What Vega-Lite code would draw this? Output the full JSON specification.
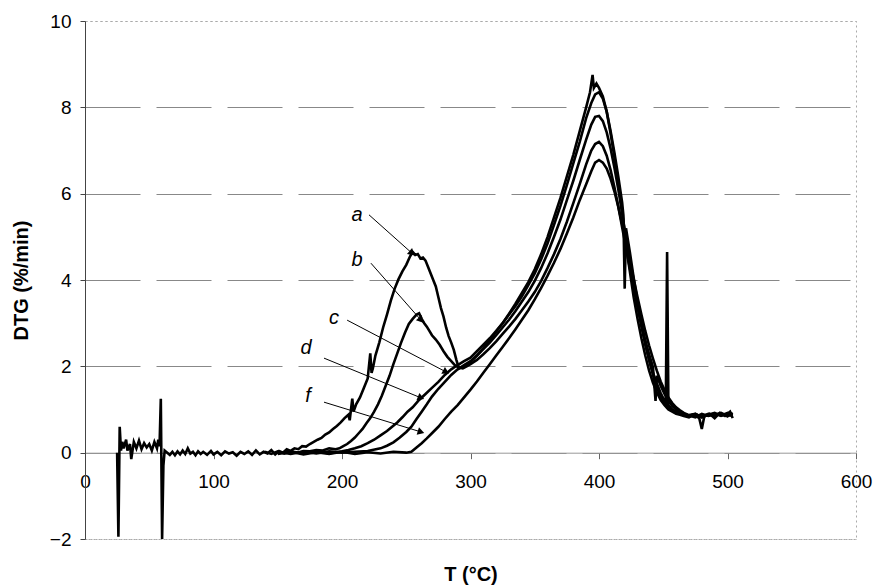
{
  "$schema": "https://vega.github.io/schema/vega-lite/v6.json",
  "width": 771,
  "height": 518,
  "autosize": {"type": "none"},
  "padding": {"left": 85, "top": 21, "right": 21, "bottom": 48},
  "background": "white",
  "config": {
    "view": {"stroke": "#aaa", "strokeDash": [2, 3]},
    "font": "Liberation Sans"
  },
  "datasets": {
    "dtg": [
      {"s":"a","t":25,"v":0},{"s":"a","t":26,"v":-1.95},{"s":"a","t":27,"v":0.6},{"s":"a","t":28,"v":0.05},{"s":"a","t":29,"v":0.25},{"s":"a","t":30,"v":0.1},{"s":"a","t":32,"v":0.3},{"s":"a","t":33,"v":0.05},{"s":"a","t":35,"v":0.2},{"s":"a","t":36,"v":-0.15},{"s":"a","t":38,"v":0.25},{"s":"a","t":40,"v":0.1},{"s":"a","t":42,"v":0.28},{"s":"a","t":44,"v":0.08},{"s":"a","t":46,"v":0.22},{"s":"a","t":48,"v":0.12},{"s":"a","t":50,"v":0.2},{"s":"a","t":52,"v":0.05},{"s":"a","t":54,"v":0.25},{"s":"a","t":56,"v":0.1},{"s":"a","t":57,"v":0.3},{"s":"a","t":58,"v":0.15},{"s":"a","t":59,"v":1.25},{"s":"a","t":60,"v":-2.0},{"s":"a","t":61,"v":-0.3},{"s":"a","t":62,"v":0.05},{"s":"a","t":64,"v":0},{"s":"a","t":66,"v":-0.05},{"s":"a","t":68,"v":0.02},{"s":"a","t":70,"v":-0.06},{"s":"a","t":72,"v":0.03},{"s":"a","t":74,"v":-0.04},{"s":"a","t":76,"v":0.05},{"s":"a","t":78,"v":-0.03},{"s":"a","t":80,"v":0.1},{"s":"a","t":82,"v":-0.02},{"s":"a","t":84,"v":0.02},{"s":"a","t":86,"v":-0.06},{"s":"a","t":88,"v":0.03},{"s":"a","t":90,"v":-0.03},{"s":"a","t":92,"v":0.02},{"s":"a","t":95,"v":-0.05},{"s":"a","t":98,"v":0.04},{"s":"a","t":100,"v":-0.04},{"s":"a","t":103,"v":0.02},{"s":"a","t":106,"v":-0.06},{"s":"a","t":109,"v":0.03},{"s":"a","t":112,"v":-0.02},{"s":"a","t":115,"v":0.01},{"s":"a","t":118,"v":-0.07},{"s":"a","t":121,"v":0.02},{"s":"a","t":124,"v":-0.03},{"s":"a","t":127,"v":0.03},{"s":"a","t":130,"v":-0.05},{"s":"a","t":133,"v":0.05},{"s":"a","t":136,"v":-0.04},{"s":"a","t":139,"v":0.02},{"s":"a","t":142,"v":-0.02},{"s":"a","t":145,"v":0.06},{"s":"a","t":148,"v":-0.04},{"s":"a","t":151,"v":0.04},{"s":"a","t":154,"v":0},{"s":"a","t":157,"v":0.08},{"s":"a","t":160,"v":0.04},{"s":"a","t":163,"v":0.1},{"s":"a","t":166,"v":0.08},{"s":"a","t":169,"v":0.15},{"s":"a","t":172,"v":0.14},{"s":"a","t":175,"v":0.2},{"s":"a","t":178,"v":0.25},{"s":"a","t":181,"v":0.3},{"s":"a","t":184,"v":0.34},{"s":"a","t":187,"v":0.42},{"s":"a","t":190,"v":0.47},{"s":"a","t":193,"v":0.55},{"s":"a","t":196,"v":0.62},{"s":"a","t":199,"v":0.7},{"s":"a","t":202,"v":0.8},{"s":"a","t":205,"v":0.88},{"s":"a","t":206,"v":0.75},{"s":"a","t":208,"v":1.25},{"s":"a","t":209,"v":0.95},{"s":"a","t":211,"v":1.12},{"s":"a","t":214,"v":1.28},{"s":"a","t":217,"v":1.5},{"s":"a","t":220,"v":1.72},{"s":"a","t":222,"v":2.3},{"s":"a","t":223,"v":1.85},{"s":"a","t":224,"v":1.95},{"s":"a","t":226,"v":2.25},{"s":"a","t":229,"v":2.55},{"s":"a","t":232,"v":2.9},{"s":"a","t":235,"v":3.2},{"s":"a","t":238,"v":3.52},{"s":"a","t":241,"v":3.8},{"s":"a","t":244,"v":4.02},{"s":"a","t":247,"v":4.2},{"s":"a","t":250,"v":4.35},{"s":"a","t":253,"v":4.55},{"s":"a","t":255,"v":4.65},{"s":"a","t":257,"v":4.58},{"s":"a","t":259,"v":4.6},{"s":"a","t":261,"v":4.5},{"s":"a","t":263,"v":4.52},{"s":"a","t":265,"v":4.45},{"s":"a","t":267,"v":4.3},{"s":"a","t":269,"v":4.15},{"s":"a","t":271,"v":4.0},{"s":"a","t":273,"v":3.85},{"s":"a","t":275,"v":3.6},{"s":"a","t":277,"v":3.35},{"s":"a","t":279,"v":3.15},{"s":"a","t":281,"v":2.9},{"s":"a","t":283,"v":2.7},{"s":"a","t":285,"v":2.55},{"s":"a","t":287,"v":2.38},{"s":"a","t":289,"v":2.15},{"s":"a","t":291,"v":1.95},{"s":"a","t":295,"v":2.0},{"s":"a","t":300,"v":2.1},{"s":"a","t":305,"v":2.25},{"s":"a","t":310,"v":2.42},{"s":"a","t":315,"v":2.6},{"s":"a","t":320,"v":2.8},{"s":"a","t":325,"v":3.0},{"s":"a","t":330,"v":3.22},{"s":"a","t":335,"v":3.45},{"s":"a","t":340,"v":3.7},{"s":"a","t":345,"v":3.95},{"s":"a","t":350,"v":4.25},{"s":"a","t":355,"v":4.6},{"s":"a","t":360,"v":5.0},{"s":"a","t":365,"v":5.45},{"s":"a","t":370,"v":5.9},{"s":"a","t":375,"v":6.4},{"s":"a","t":380,"v":6.9},{"s":"a","t":385,"v":7.45},{"s":"a","t":390,"v":8.0},{"s":"a","t":393,"v":8.35},{"s":"a","t":395,"v":8.75},{"s":"a","t":396,"v":8.45},{"s":"a","t":398,"v":8.55},{"s":"a","t":400,"v":8.45},{"s":"a","t":403,"v":8.25},{"s":"a","t":406,"v":7.9},{"s":"a","t":409,"v":7.4},{"s":"a","t":412,"v":6.85},{"s":"a","t":415,"v":6.25},{"s":"a","t":418,"v":5.6},{"s":"a","t":420,"v":5.1},{"s":"a","t":422,"v":4.6},{"s":"a","t":424,"v":4.2},{"s":"a","t":427,"v":3.6},{"s":"a","t":430,"v":3.1},{"s":"a","t":433,"v":2.65},{"s":"a","t":436,"v":2.25},{"s":"a","t":439,"v":1.9},{"s":"a","t":442,"v":1.62},{"s":"a","t":445,"v":1.4},{"s":"a","t":448,"v":1.22},{"s":"a","t":451,"v":1.1},{"s":"a","t":454,"v":1.0},{"s":"a","t":457,"v":0.95},{"s":"a","t":460,"v":0.9},{"s":"a","t":463,"v":0.88},{"s":"a","t":466,"v":0.85},{"s":"a","t":470,"v":0.82},{"s":"a","t":474,"v":0.88},{"s":"a","t":478,"v":0.8},{"s":"a","t":480,"v":0.55},{"s":"a","t":482,"v":0.85},{"s":"a","t":486,"v":0.9},{"s":"a","t":490,"v":0.8},{"s":"a","t":494,"v":0.92},{"s":"a","t":498,"v":0.85},{"s":"a","t":502,"v":0.95},{"s":"a","t":504,"v":0.8},

      {"s":"b","t":140,"v":0.02},{"s":"b","t":145,"v":-0.03},{"s":"b","t":150,"v":0.03},{"s":"b","t":155,"v":-0.02},{"s":"b","t":160,"v":0.02},{"s":"b","t":165,"v":0},{"s":"b","t":170,"v":0.04},{"s":"b","t":175,"v":0.03},{"s":"b","t":180,"v":0.06},{"s":"b","t":185,"v":0.05},{"s":"b","t":190,"v":0.1},{"s":"b","t":195,"v":0.08},{"s":"b","t":198,"v":0.1},{"s":"b","t":201,"v":0.15},{"s":"b","t":204,"v":0.2},{"s":"b","t":207,"v":0.27},{"s":"b","t":210,"v":0.35},{"s":"b","t":213,"v":0.45},{"s":"b","t":216,"v":0.55},{"s":"b","t":219,"v":0.68},{"s":"b","t":222,"v":0.8},{"s":"b","t":225,"v":0.95},{"s":"b","t":228,"v":1.12},{"s":"b","t":231,"v":1.32},{"s":"b","t":234,"v":1.55},{"s":"b","t":237,"v":1.78},{"s":"b","t":240,"v":2.05},{"s":"b","t":243,"v":2.3},{"s":"b","t":246,"v":2.55},{"s":"b","t":249,"v":2.78},{"s":"b","t":252,"v":2.98},{"s":"b","t":255,"v":3.1},{"s":"b","t":258,"v":3.2},{"s":"b","t":260,"v":3.23},{"s":"b","t":262,"v":3.1},{"s":"b","t":264,"v":3.0},{"s":"b","t":266,"v":2.92},{"s":"b","t":268,"v":2.82},{"s":"b","t":270,"v":2.72},{"s":"b","t":273,"v":2.62},{"s":"b","t":276,"v":2.5},{"s":"b","t":279,"v":2.35},{"s":"b","t":282,"v":2.22},{"s":"b","t":285,"v":2.12},{"s":"b","t":288,"v":2.02},{"s":"b","t":291,"v":1.97},{"s":"b","t":294,"v":1.95},{"s":"b","t":297,"v":2.0},{"s":"b","t":300,"v":2.05},{"s":"b","t":305,"v":2.15},{"s":"b","t":310,"v":2.28},{"s":"b","t":315,"v":2.42},{"s":"b","t":320,"v":2.58},{"s":"b","t":325,"v":2.75},{"s":"b","t":330,"v":2.92},{"s":"b","t":335,"v":3.1},{"s":"b","t":340,"v":3.3},{"s":"b","t":345,"v":3.5},{"s":"b","t":350,"v":3.72},{"s":"b","t":355,"v":3.98},{"s":"b","t":360,"v":4.28},{"s":"b","t":365,"v":4.6},{"s":"b","t":370,"v":4.95},{"s":"b","t":375,"v":5.35},{"s":"b","t":380,"v":5.78},{"s":"b","t":385,"v":6.22},{"s":"b","t":390,"v":6.68},{"s":"b","t":394,"v":7.0},{"s":"b","t":397,"v":7.15},{"s":"b","t":400,"v":7.2},{"s":"b","t":403,"v":7.1},{"s":"b","t":406,"v":6.88},{"s":"b","t":409,"v":6.55},{"s":"b","t":412,"v":6.15},{"s":"b","t":415,"v":5.7},{"s":"b","t":418,"v":5.22},{"s":"b","t":421,"v":4.75},{"s":"b","t":424,"v":4.28},{"s":"b","t":427,"v":3.82},{"s":"b","t":430,"v":3.38},{"s":"b","t":433,"v":2.98},{"s":"b","t":436,"v":2.6},{"s":"b","t":439,"v":2.28},{"s":"b","t":442,"v":1.98},{"s":"b","t":444,"v":1.2},{"s":"b","t":445,"v":1.78},{"s":"b","t":448,"v":1.55},{"s":"b","t":451,"v":1.36},{"s":"b","t":454,"v":1.2},{"s":"b","t":457,"v":1.08},{"s":"b","t":460,"v":1.0},{"s":"b","t":465,"v":0.9},{"s":"b","t":470,"v":0.86},{"s":"b","t":475,"v":0.88},{"s":"b","t":480,"v":0.84},{"s":"b","t":485,"v":0.9},{"s":"b","t":490,"v":0.86},{"s":"b","t":495,"v":0.9},{"s":"b","t":500,"v":0.84},{"s":"b","t":504,"v":0.92},

      {"s":"c","t":150,"v":-0.03},{"s":"c","t":160,"v":0.03},{"s":"c","t":170,"v":-0.02},{"s":"c","t":180,"v":0.02},{"s":"c","t":190,"v":-0.01},{"s":"c","t":200,"v":0.03},{"s":"c","t":205,"v":0.06},{"s":"c","t":210,"v":0.1},{"s":"c","t":215,"v":0.15},{"s":"c","t":220,"v":0.22},{"s":"c","t":225,"v":0.3},{"s":"c","t":230,"v":0.4},{"s":"c","t":235,"v":0.5},{"s":"c","t":239,"v":0.6},{"s":"c","t":243,"v":0.7},{"s":"c","t":247,"v":0.82},{"s":"c","t":251,"v":0.95},{"s":"c","t":255,"v":1.05},{"s":"c","t":260,"v":1.22},{"s":"c","t":265,"v":1.36},{"s":"c","t":270,"v":1.5},{"s":"c","t":275,"v":1.64},{"s":"c","t":280,"v":1.8},{"s":"c","t":285,"v":1.93},{"s":"c","t":290,"v":2.03},{"s":"c","t":295,"v":2.12},{"s":"c","t":300,"v":2.2},{"s":"c","t":305,"v":2.35},{"s":"c","t":310,"v":2.5},{"s":"c","t":315,"v":2.65},{"s":"c","t":320,"v":2.82},{"s":"c","t":325,"v":3.0},{"s":"c","t":330,"v":3.2},{"s":"c","t":335,"v":3.4},{"s":"c","t":340,"v":3.62},{"s":"c","t":345,"v":3.88},{"s":"c","t":350,"v":4.15},{"s":"c","t":355,"v":4.48},{"s":"c","t":360,"v":4.85},{"s":"c","t":365,"v":5.28},{"s":"c","t":370,"v":5.72},{"s":"c","t":375,"v":6.2},{"s":"c","t":380,"v":6.7},{"s":"c","t":385,"v":7.2},{"s":"c","t":390,"v":7.75},{"s":"c","t":394,"v":8.1},{"s":"c","t":397,"v":8.3},{"s":"c","t":400,"v":8.35},{"s":"c","t":403,"v":8.2},{"s":"c","t":406,"v":7.9},{"s":"c","t":409,"v":7.45},{"s":"c","t":412,"v":6.95},{"s":"c","t":415,"v":6.4},{"s":"c","t":418,"v":5.8},{"s":"c","t":419,"v":5.5},{"s":"c","t":420,"v":3.8},{"s":"c","t":421,"v":5.2},{"s":"c","t":424,"v":4.65},{"s":"c","t":427,"v":4.05},{"s":"c","t":430,"v":3.5},{"s":"c","t":433,"v":3.0},{"s":"c","t":436,"v":2.55},{"s":"c","t":439,"v":2.15},{"s":"c","t":442,"v":1.8},{"s":"c","t":445,"v":1.52},{"s":"c","t":448,"v":1.3},{"s":"c","t":451,"v":1.15},{"s":"c","t":454,"v":1.05},{"s":"c","t":457,"v":0.98},{"s":"c","t":460,"v":0.92},{"s":"c","t":465,"v":0.88},{"s":"c","t":470,"v":0.85},{"s":"c","t":475,"v":0.9},{"s":"c","t":480,"v":0.82},{"s":"c","t":485,"v":0.88},{"s":"c","t":490,"v":0.92},{"s":"c","t":495,"v":0.85},{"s":"c","t":500,"v":0.9},{"s":"c","t":504,"v":0.88},

      {"s":"d","t":150,"v":0.02},{"s":"d","t":160,"v":-0.03},{"s":"d","t":170,"v":0.02},{"s":"d","t":180,"v":-0.02},{"s":"d","t":190,"v":0.03},{"s":"d","t":200,"v":0},{"s":"d","t":210,"v":0.02},{"s":"d","t":220,"v":0.04},{"s":"d","t":230,"v":0.1},{"s":"d","t":235,"v":0.16},{"s":"d","t":240,"v":0.24},{"s":"d","t":245,"v":0.35},{"s":"d","t":250,"v":0.48},{"s":"d","t":254,"v":0.6},{"s":"d","t":258,"v":0.78},{"s":"d","t":262,"v":0.95},{"s":"d","t":266,"v":1.12},{"s":"d","t":270,"v":1.3},{"s":"d","t":275,"v":1.48},{"s":"d","t":280,"v":1.64},{"s":"d","t":285,"v":1.8},{"s":"d","t":290,"v":1.93},{"s":"d","t":295,"v":2.03},{"s":"d","t":300,"v":2.12},{"s":"d","t":305,"v":2.25},{"s":"d","t":310,"v":2.4},{"s":"d","t":315,"v":2.55},{"s":"d","t":320,"v":2.72},{"s":"d","t":325,"v":2.9},{"s":"d","t":330,"v":3.08},{"s":"d","t":335,"v":3.28},{"s":"d","t":340,"v":3.5},{"s":"d","t":345,"v":3.72},{"s":"d","t":350,"v":3.98},{"s":"d","t":355,"v":4.28},{"s":"d","t":360,"v":4.62},{"s":"d","t":365,"v":5.0},{"s":"d","t":370,"v":5.4},{"s":"d","t":375,"v":5.85},{"s":"d","t":380,"v":6.3},{"s":"d","t":385,"v":6.78},{"s":"d","t":390,"v":7.25},{"s":"d","t":394,"v":7.6},{"s":"d","t":397,"v":7.78},{"s":"d","t":400,"v":7.8},{"s":"d","t":403,"v":7.68},{"s":"d","t":406,"v":7.42},{"s":"d","t":409,"v":7.05},{"s":"d","t":412,"v":6.6},{"s":"d","t":415,"v":6.1},{"s":"d","t":418,"v":5.55},{"s":"d","t":421,"v":4.98},{"s":"d","t":424,"v":4.42},{"s":"d","t":427,"v":3.88},{"s":"d","t":430,"v":3.38},{"s":"d","t":433,"v":2.92},{"s":"d","t":436,"v":2.5},{"s":"d","t":439,"v":2.15},{"s":"d","t":442,"v":1.85},{"s":"d","t":445,"v":1.6},{"s":"d","t":448,"v":1.38},{"s":"d","t":451,"v":1.2},{"s":"d","t":452,"v":1.15},{"s":"d","t":453,"v":4.65},{"s":"d","t":454,"v":1.1},{"s":"d","t":457,"v":1.0},{"s":"d","t":460,"v":0.95},{"s":"d","t":465,"v":0.9},{"s":"d","t":470,"v":0.86},{"s":"d","t":475,"v":0.82},{"s":"d","t":480,"v":0.9},{"s":"d","t":485,"v":0.85},{"s":"d","t":490,"v":0.88},{"s":"d","t":495,"v":0.92},{"s":"d","t":500,"v":0.85},{"s":"d","t":504,"v":0.9},

      {"s":"f","t":150,"v":-0.02},{"s":"f","t":160,"v":0.02},{"s":"f","t":170,"v":-0.04},{"s":"f","t":180,"v":0.01},{"s":"f","t":190,"v":-0.03},{"s":"f","t":200,"v":0.02},{"s":"f","t":210,"v":-0.03},{"s":"f","t":220,"v":0.01},{"s":"f","t":230,"v":-0.02},{"s":"f","t":240,"v":0.02},{"s":"f","t":250,"v":0},{"s":"f","t":254,"v":0.02},{"s":"f","t":258,"v":0.12},{"s":"f","t":262,"v":0.22},{"s":"f","t":266,"v":0.33},{"s":"f","t":270,"v":0.45},{"s":"f","t":275,"v":0.6},{"s":"f","t":280,"v":0.78},{"s":"f","t":285,"v":0.95},{"s":"f","t":290,"v":1.1},{"s":"f","t":295,"v":1.28},{"s":"f","t":300,"v":1.46},{"s":"f","t":305,"v":1.65},{"s":"f","t":310,"v":1.85},{"s":"f","t":315,"v":2.05},{"s":"f","t":320,"v":2.25},{"s":"f","t":325,"v":2.45},{"s":"f","t":330,"v":2.65},{"s":"f","t":335,"v":2.86},{"s":"f","t":340,"v":3.08},{"s":"f","t":345,"v":3.3},{"s":"f","t":350,"v":3.55},{"s":"f","t":355,"v":3.82},{"s":"f","t":360,"v":4.1},{"s":"f","t":365,"v":4.4},{"s":"f","t":370,"v":4.72},{"s":"f","t":375,"v":5.08},{"s":"f","t":380,"v":5.45},{"s":"f","t":385,"v":5.85},{"s":"f","t":390,"v":6.22},{"s":"f","t":394,"v":6.52},{"s":"f","t":397,"v":6.72},{"s":"f","t":400,"v":6.78},{"s":"f","t":403,"v":6.72},{"s":"f","t":406,"v":6.58},{"s":"f","t":409,"v":6.35},{"s":"f","t":412,"v":6.05},{"s":"f","t":415,"v":5.7},{"s":"f","t":418,"v":5.3},{"s":"f","t":421,"v":4.88},{"s":"f","t":424,"v":4.45},{"s":"f","t":427,"v":4.02},{"s":"f","t":430,"v":3.6},{"s":"f","t":433,"v":3.2},{"s":"f","t":436,"v":2.82},{"s":"f","t":439,"v":2.48},{"s":"f","t":442,"v":2.18},{"s":"f","t":445,"v":1.9},{"s":"f","t":448,"v":1.65},{"s":"f","t":451,"v":1.45},{"s":"f","t":454,"v":1.28},{"s":"f","t":457,"v":1.15},{"s":"f","t":460,"v":1.05},{"s":"f","t":463,"v":0.98},{"s":"f","t":466,"v":0.92},{"s":"f","t":470,"v":0.87},{"s":"f","t":475,"v":0.9},{"s":"f","t":480,"v":0.82},{"s":"f","t":485,"v":0.88},{"s":"f","t":490,"v":0.9},{"s":"f","t":495,"v":0.86},{"s":"f","t":500,"v":0.92},{"s":"f","t":503,"v":0.85}
    ],
    "arrows": [
      {"label": "a", "x": 221, "y": 5.51, "x2": 254.5, "y2": 4.62, "lx": 211.7, "ly": 5.51},
      {"label": "b", "x": 222.5, "y": 4.39, "x2": 261.5, "y2": 3.07, "lx": 211.7, "ly": 4.46},
      {"label": "c", "x": 204, "y": 3.07, "x2": 281, "y2": 1.87, "lx": 193.8, "ly": 3.12},
      {"label": "d", "x": 186, "y": 2.19, "x2": 261.5, "y2": 1.27, "lx": 172, "ly": 2.42},
      {"label": "f", "x": 186, "y": 1.17, "x2": 261.5, "y2": 0.48, "lx": 173.5, "ly": 1.31}
    ]
  },
  "layer": [
    {
      "data": {"name": "dtg"},
      "mark": {"type": "line", "color": "black", "strokeWidth": 2.6, "clip": true},
      "encoding": {
        "x": {
          "field": "t", "type": "quantitative", "title": "T (°C)",
          "scale": {"domain": [0, 600], "nice": false},
          "axis": {
            "values": [0, 100, 200, 300, 400, 500, 600],
            "offset": -86.3,
            "title": "T (°C)",
            "titleFontSize": 20, "titleFontWeight": "bold", "titleColor": "black",
            "titleX": 385.5, "titleY": 122, "titleBaseline": "middle", "titleAlign": "center",
            "labelFontSize": 19, "labelColor": "black", "labelPadding": 14,
            "labelFlush": false, "labelOverlap": false, "labelBound": false,
            "tickSize": 6, "tickColor": "#666",
            "domainColor": "#999", "grid": false
          }
        },
        "y": {
          "field": "v", "type": "quantitative", "title": "DTG (%/min)",
          "scale": {"domain": [-2, 10], "nice": false},
          "axis": {
            "values": [-2, 0, 2, 4, 6, 8, 10],
            "title": "DTG (%/min)",
            "titleFontSize": 20, "titleFontWeight": "bold", "titleColor": "black",
            "titleX": -64, "titleY": 259, "titleBaseline": "middle", "titleAlign": "center", "titleAngle": -90,
            "labelFontSize": 19, "labelColor": "black", "labelPadding": 9,
            "tickSize": 5, "tickColor": "#444", "domainColor": "#444",
            "grid": true,
            "gridColor": {"condition": {"test": "datum.value === 10 || datum.value === -2", "value": "#aaa"}, "value": "#888"},
            "gridDash": {"condition": {"test": "datum.value === 10 || datum.value === -2", "value": [2, 3]}, "value": [55, 16]},
            "gridWidth": 1
          }
        },
        "detail": {"field": "s"}
      }
    },
    {
      "data": {"name": "arrows"},
      "mark": {"type": "rule", "color": "black", "strokeWidth": 1},
      "encoding": {
        "x": {"field": "x", "type": "quantitative", "title": "T (°C)"},
        "y": {"field": "y", "type": "quantitative", "title": "DTG (%/min)"},
        "x2": {"field": "x2"},
        "y2": {"field": "y2"}
      }
    },
    {
      "data": {"name": "arrows"},
      "transform": [{"filter": "datum.label === 'a'"}],
      "mark": {"type": "point", "shape": "triangle-up", "filled": true, "color": "black", "opacity": 1, "size": 60, "angle": 131.5},
      "encoding": {
        "x": {"field": "x2", "type": "quantitative", "title": "T (°C)"},
        "y": {"field": "y2", "type": "quantitative", "title": "DTG (%/min)"}
      }
    },
    {
      "data": {"name": "arrows"},
      "transform": [{"filter": "datum.label === 'b'"}],
      "mark": {"type": "point", "shape": "triangle-up", "filled": true, "color": "black", "opacity": 1, "size": 60, "angle": 138.7},
      "encoding": {
        "x": {"field": "x2", "type": "quantitative", "title": "T (°C)"},
        "y": {"field": "y2", "type": "quantitative", "title": "DTG (%/min)"}
      }
    },
    {
      "data": {"name": "arrows"},
      "transform": [{"filter": "datum.label === 'c'"}],
      "mark": {"type": "point", "shape": "triangle-up", "filled": true, "color": "black", "opacity": 1, "size": 60, "angle": 117.7},
      "encoding": {
        "x": {"field": "x2", "type": "quantitative", "title": "T (°C)"},
        "y": {"field": "y2", "type": "quantitative", "title": "DTG (%/min)"}
      }
    },
    {
      "data": {"name": "arrows"},
      "transform": [{"filter": "datum.label === 'd'"}],
      "mark": {"type": "point", "shape": "triangle-up", "filled": true, "color": "black", "opacity": 1, "size": 60, "angle": 112.4},
      "encoding": {
        "x": {"field": "x2", "type": "quantitative", "title": "T (°C)"},
        "y": {"field": "y2", "type": "quantitative", "title": "DTG (%/min)"}
      }
    },
    {
      "data": {"name": "arrows"},
      "transform": [{"filter": "datum.label === 'f'"}],
      "mark": {"type": "point", "shape": "triangle-up", "filled": true, "color": "black", "opacity": 1, "size": 60, "angle": 107.2},
      "encoding": {
        "x": {"field": "x2", "type": "quantitative", "title": "T (°C)"},
        "y": {"field": "y2", "type": "quantitative", "title": "DTG (%/min)"}
      }
    },
    {
      "data": {"name": "arrows"},
      "mark": {"type": "text", "fontStyle": "italic", "fontSize": 20, "color": "black", "align": "center", "baseline": "middle"},
      "encoding": {
        "x": {"field": "lx", "type": "quantitative", "title": "T (°C)"},
        "y": {"field": "ly", "type": "quantitative", "title": "DTG (%/min)"},
        "text": {"field": "label"}
      }
    }
  ]
}
